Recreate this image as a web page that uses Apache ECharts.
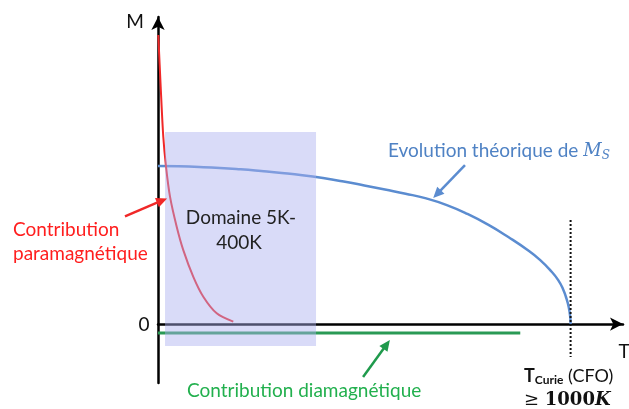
<!DOCTYPE html>
<html>
<head>
<meta charset="utf-8">
<script src="https://cdn.jsdelivr.net/npm/echarts@6/dist/echarts.min.js"></script>
<style>
  html, body { margin: 0; padding: 0; background: #fff; }
  #chart { width: 629px; height: 409px; }
</style>
</head>
<body>
<div id="chart"></div>
<script>
// Temperature (K) and magnetisation (normalised to Ms at 0 K)
const T_MAX = 1127;
const M_MIN = -0.373;
const M_MAX = 1.943;

// Theoretical saturation magnetisation Ms(T)
const msT = [0, 50, 100, 150, 200, 250, 300, 350, 400, 450, 500, 550, 600, 650, 700, 750, 800, 850, 900, 925, 950, 970, 983, 990, 995, 999, 1000];
const msM = [1.0, 0.998, 0.994, 0.988, 0.979, 0.968, 0.956, 0.942, 0.924, 0.902, 0.877, 0.851, 0.825, 0.795, 0.753, 0.697, 0.629, 0.549, 0.461, 0.408, 0.343, 0.278, 0.213, 0.161, 0.113, 0.048, 0];

// Paramagnetic contribution
const paraT = [0.7, 6.5, 12.8, 19.4, 29.1, 45.3, 61.3, 85.6, 109.8, 142.3, 182.5];
const paraM = [1.829, 1.502, 1.185, 0.996, 0.806, 0.616, 0.468, 0.299, 0.173, 0.068, 0.015];

// Diamagnetic contribution (small constant negative value)
const diaT = [0, 878];
const diaM = [-0.057, -0.057];

// Curie temperature of CFO
const curieT = 1000;
const curieM = [0.658, -0.209];

// Measurement window 5 K – 400 K
const domainT = [17, 383];
const domainM = [-0.139, 1.215];

// Annotation arrows: [tailT, tailM, headT, headM]
const arrowMs = [744, 1.006, 667, 0.797];
const arrowPara = [-80, 0.682, 22, 0.795];
const arrowDia = [497, -0.335, 562, -0.101];

const TXT = 'Lato, "Open Sans", sans-serif';
const BLUE = '#5b8cd0';
const RED = '#f02828';

const zip = (xs, ys) => xs.map((x, i) => [x, ys[i]]);

const chart = echarts.init(document.getElementById('chart'), null, { renderer: 'canvas' });

const axisLine = {
  show: true,
  onZero: true,
  symbol: ['none', 'arrow'],
  symbolSize: [10, 13],
  lineStyle: { color: '#000', width: 2.5 }
};

chart.setOption({
  animation: false,
  backgroundColor: '#fff',
  grid: { left: 158, right: 6, top: 17, bottom: 26 },
  xAxis: {
    type: 'value', min: 0, max: T_MAX,
    axisLine: axisLine,
    axisTick: { show: false }, axisLabel: { show: false }, splitLine: { show: false }
  },
  yAxis: {
    type: 'value', min: M_MIN, max: M_MAX,
    axisLine: axisLine,
    axisTick: { show: false }, axisLabel: { show: false }, splitLine: { show: false }
  },
  series: [
    {
      name: 'Ms', type: 'line', data: zip(msT, msM), smooth: 0.5, showSymbol: false,
      lineStyle: { color: BLUE, width: 2.5 }, z: 3
    },
    {
      name: 'para', type: 'line', data: zip(paraT, paraM), smooth: 0.3, showSymbol: false,
      lineStyle: { color: RED, width: 2 }, z: 3
    },
    {
      name: 'dia', type: 'line', data: zip(diaT, diaM), showSymbol: false,
      lineStyle: { color: '#2a9a55', width: 3 }, z: 3
    },
    {
      name: 'curie', type: 'line', data: [[curieT, curieM[0]], [curieT, curieM[1]]], showSymbol: false,
      lineStyle: { color: '#111', width: 2, type: [2, 2] }, z: 3
    },
    {
      name: 'domaine', type: 'line', data: [], z: 10, clip: false,
      markArea: {
        silent: true,
        z: 10,
        itemStyle: { color: 'rgba(171,176,240,0.45)' },
        data: [[{ coord: [domainT[0], domainM[1]] }, { coord: [domainT[1], domainM[0]] }]]
      }
    }
  ]
});

// Arrow shaft and head, placed through the chart's own scales
function arrowGraphic(a, color) {
  const p0 = chart.convertToPixel({ gridIndex: 0 }, [a[0], a[1]]);
  const p1 = chart.convertToPixel({ gridIndex: 0 }, [a[2], a[3]]);
  const dx = p1[0] - p0[0], dy = p1[1] - p0[1];
  const len = Math.sqrt(dx * dx + dy * dy);
  const ux = dx / len, uy = dy / len;
  const hl = 11, hw = 5;
  const bx = p1[0] - ux * hl, by = p1[1] - uy * hl;
  return [
    { type: 'line', z: 50, shape: { x1: p0[0], y1: p0[1], x2: bx + ux * 2, y2: by + uy * 2 }, style: { stroke: color, lineWidth: 2.5 } },
    { type: 'polygon', z: 50, shape: { points: [[p1[0], p1[1]], [bx - uy * hw, by + ux * hw], [bx + uy * hw, by - ux * hw]] }, style: { fill: color } }
  ];
}

const labels = [
  { type: 'text', x: 135, y: 22, z: 100, style: { text: 'M', font: '19px ' + TXT, fill: '#111', align: 'center', verticalAlign: 'middle' } },
  { type: 'text', x: 144, y: 325, z: 100, style: { text: '0', font: '19px ' + TXT, fill: '#111', align: 'center', verticalAlign: 'middle' } },
  { type: 'text', x: 624, y: 352, z: 100, style: { text: 'T', font: '19px ' + TXT, fill: '#111', align: 'center', verticalAlign: 'middle' } },
  {
    type: 'text', x: 388, y: 151, z: 100,
    style: {
      text: '{a|Evolution théorique de }{m|M}{s|S}',
      align: 'left', verticalAlign: 'middle',
      rich: {
        a: { font: '19px ' + TXT, fill: '#4f82c4' },
        m: { font: 'italic 18px "DejaVu Serif", serif', fill: '#4f82c4' },
        s: { font: 'italic 12px "DejaVu Serif", serif', fill: '#4f82c4', padding: [9, 0, 0, 0] }
      }
    }
  },
  { type: 'text', x: 13, y: 230, z: 100, style: { text: 'Contribution', font: '19px ' + TXT, fill: '#ff1e1e', align: 'left', verticalAlign: 'middle' } },
  { type: 'text', x: 13, y: 254, z: 100, style: { text: 'paramagnétique', font: '19px ' + TXT, fill: '#ff1e1e', align: 'left', verticalAlign: 'middle' } },
  { type: 'text', x: 241, y: 218, z: 100, style: { text: 'Domaine 5K-', font: '19px ' + TXT, fill: '#222', align: 'center', verticalAlign: 'middle' } },
  { type: 'text', x: 239, y: 243, z: 100, style: { text: '400K', font: '19px ' + TXT, fill: '#222', align: 'center', verticalAlign: 'middle' } },
  { type: 'text', x: 187, y: 391, z: 100, style: { text: 'Contribution diamagnétique', font: '19px ' + TXT, fill: '#22b04e', align: 'left', verticalAlign: 'middle' } },
  {
    type: 'text', x: 524, y: 376, z: 100,
    style: {
      text: '{t|T}{c|Curie}{r| (CFO)}',
      align: 'left', verticalAlign: 'middle',
      rich: {
        t: { font: 'bold 18px ' + TXT, fill: '#111' },
        c: { font: 'bold 12px ' + TXT, fill: '#111', padding: [8, 0, 0, 0] },
        r: { font: '18px ' + TXT, fill: '#111' }
      }
    }
  },
  {
    type: 'text', x: 524, y: 400, z: 100,
    style: {
      text: '{g|≥ }{n|1000}{k|K}',
      align: 'left', verticalAlign: 'middle',
      rich: {
        g: { font: '18px "DejaVu Serif", serif', fill: '#111' },
        n: { font: 'bold 18px "DejaVu Serif", serif', fill: '#111' },
        k: { font: 'bold italic 18px "DejaVu Serif", serif', fill: '#111' }
      }
    }
  }
];

chart.setOption({
  graphic: labels
    .concat(arrowGraphic(arrowMs, BLUE))
    .concat(arrowGraphic(arrowPara, RED))
    .concat(arrowGraphic(arrowDia, '#1f9a4c'))
});
</script>
</body>
</html>
